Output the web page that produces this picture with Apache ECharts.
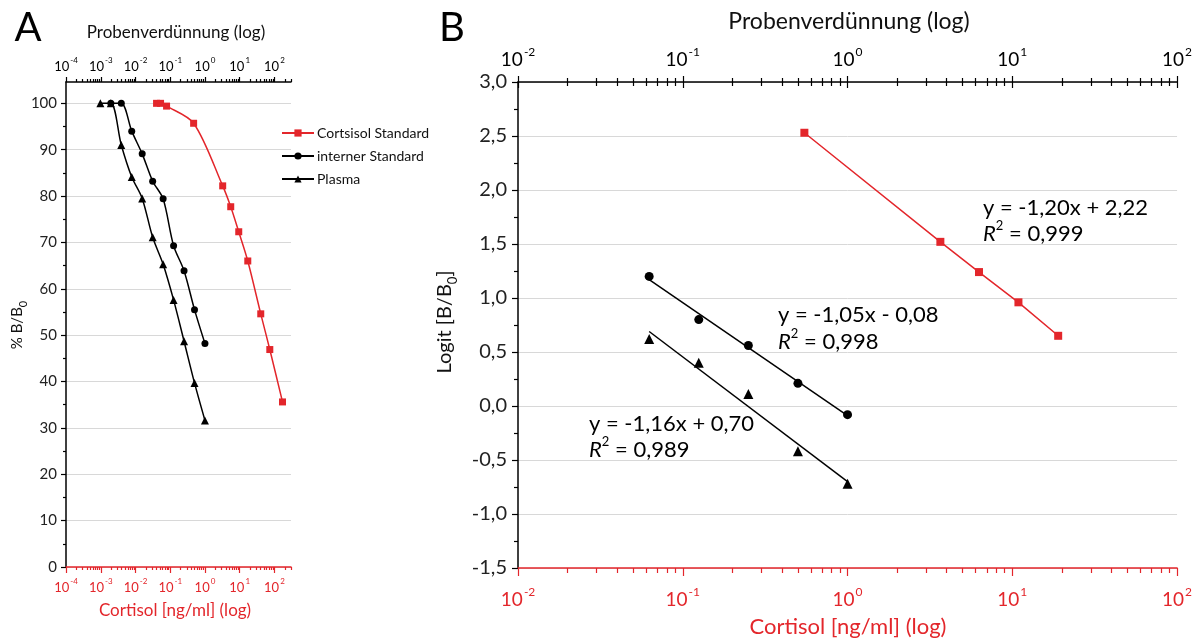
<!DOCTYPE html>
<html>
<head>
<meta charset="utf-8">
<script src="https://cdn.jsdelivr.net/npm/echarts@6/dist/echarts.min.js"></script>
<style>
html, body { margin: 0; padding: 0; background: #fff; }
#chart { width: 1195px; height: 638px; }
</style>
</head>
<body>
<div id="chart"></div>
<script>
// Panel A: % B/B0 gegen Konzentration
const concPlasmaA = [0.000977, 0.00195, 0.0039, 0.0078, 0.0156, 0.03125, 0.0625, 0.125, 0.25, 0.5, 1]
const plasmaA = [100, 100, 91.0, 84.1, 79.5, 71.1, 65.3, 57.6, 48.7, 39.7, 31.6]
const concInternA = [0.00195, 0.0039, 0.0078, 0.0156, 0.03125, 0.0625, 0.125, 0.25, 0.5, 1]
const internA = [100, 100, 94.0, 89.1, 83.2, 79.4, 69.3, 63.9, 55.5, 48.2]
const concStdA = [0.0404, 0.0527, 0.0785, 0.472, 3.24, 5.52, 9.39, 17.1, 40.4, 73.6, 171]
const stdA = [100, 100, 99.4, 95.7, 82.2, 77.7, 72.3, 66.0, 54.6, 46.9, 35.6]

// Panel B: Logit
const concB = [0.0625, 0.125, 0.25, 0.5, 1]
const internB = [1.20, 0.80, 0.56, 0.21, -0.08]
const plasmaB = [0.62, 0.40, 0.11, -0.42, -0.72]
const concStdB = [0.547, 3.66, 6.28, 10.9, 19.0]
const stdB = [2.53, 1.52, 1.24, 0.96, 0.65]
// Regressionsgeraden (Endpunkte)
const fitConc = [0.0625, 1]
const internFit = [1.17, -0.09]
const plasmaFit = [0.69, -0.70]

const names = ['Cortsisol Standard', 'interner Standard', 'Plasma']
const decadesA = [1e-4, 1e-3, 1e-2, 1e-1, 1, 10, 100]
const decadesB = [1e-2, 1e-1, 1, 10, 100]
const yTicksA = [0, 10, 20, 30, 40, 50, 60, 70, 80, 90, 100]
const yMinorA = [5, 15, 25, 35, 45, 55, 65, 75, 85, 95]

const RED = '#e3262b'
const FONT = 'Lato'

const zip = (xs, ys) => xs.map((x, i) => [x, ys[i]])
const minorOf = d => d.flatMap(v => [2, 3, 4, 5, 6, 7, 8, 9].map(k => +(k * v).toPrecision(3)))

const supRich = (size, color) => ({
  b: { fontSize: size, fontFamily: FONT, color, lineHeight: size + 4, verticalAlign: 'bottom' },
  s: { fontSize: Math.round(size * 0.62), fontFamily: FONT, color, lineHeight: size + 4, verticalAlign: 'top', padding: [0, 0, 0, 1] }
})
const sup = v => '{b|10}{s|' + Math.round(Math.log10(v)) + '}'

function logAxis (grid, pos, min, max, o) {
  return {
    type: 'log', logBase: 10, gridIndex: grid, position: pos, min, max,
    axisLine: { show: !!o.line, onZero: false, lineStyle: { color: o.color, width: 1.5 } },
    axisTick: { show: true, customValues: o.ticks, length: o.len, inside: !!o.inside, lineStyle: { color: o.color, width: 1.2 } },
    axisLabel: o.labels
      ? { show: true, customValues: o.labels, formatter: sup, margin: o.margin, rich: supRich(o.size, o.color) }
      : { show: false },
    splitLine: { show: false },
    minorTick: { show: false }
  }
}

const chart = echarts.init(document.getElementById('chart'))

const text = (x, y, t, size, color, extra) => Object.assign({
  type: 'text', x, y, silent: true,
  style: Object.assign({
    text: t, fill: color || '#000', fontSize: size, fontFamily: FONT,
    align: 'center', verticalAlign: 'middle', textAlign: 'center', textVerticalAlign: 'middle'
  }, (extra && extra.style) || {})
}, extra && extra.rotation !== undefined ? { rotation: extra.rotation } : {})

const eqRich = {
  n: { fontSize: 22, fontFamily: FONT, lineHeight: 26, verticalAlign: 'bottom' },
  i: { fontSize: 22, fontFamily: FONT, fontStyle: 'italic', lineHeight: 26, verticalAlign: 'bottom' },
  s: { fontSize: 13, fontFamily: FONT, lineHeight: 26, verticalAlign: 'top' }
}
const eq = (x, y, t) => ({
  type: 'text', x, y, silent: true,
  style: { text: t, rich: eqRich, fontSize: 22, fontFamily: FONT, fill: '#000', align: 'left', textAlign: 'left', verticalAlign: 'middle', textVerticalAlign: 'middle' }
})

const minorA = minorOf(decadesA)
const minorB = minorOf(decadesB)

chart.setOption({
  animation: false,
  textStyle: { fontFamily: FONT },
  grid: [
    { left: 66, top: 82, width: 225, height: 485 },
    { left: 518, top: 82, width: 660, height: 486 }
  ],
  legend: {
    data: names, orient: 'vertical', left: 276, top: 121,
    itemWidth: 32, itemHeight: 9, itemGap: 9,
    textStyle: { fontSize: 14, fontFamily: FONT, color: '#111', padding: [0, 0, 0, -2] }
  },
  xAxis: [
    logAxis(0, 'bottom', 0.0000999, 300, { line: true, color: RED, ticks: decadesA, len: 6, labels: decadesA, margin: 10, size: 13 }),
    logAxis(0, 'bottom', 0.0000999, 300, { color: RED, ticks: minorA, len: 3 }),
    logAxis(0, 'top', 0.0000999, 300, { line: true, color: '#000', ticks: decadesA, len: 5, labels: decadesA, margin: 9, size: 13 }),
    logAxis(0, 'top', 0.0000999, 300, { color: '#000', ticks: minorA, len: 3 }),
    logAxis(1, 'bottom', 0.00999, 100.1, { line: true, color: RED, ticks: decadesB, len: 8, labels: decadesB, margin: 18, size: 19 }),
    logAxis(1, 'bottom', 0.00999, 100.1, { color: RED, ticks: minorB, len: 5 }),
    logAxis(1, 'top', 0.00999, 100.1, { line: true, color: '#000', ticks: decadesB, len: 6, labels: decadesB, margin: 13, size: 19 }),
    logAxis(1, 'top', 0.00999, 100.1, { color: '#000', ticks: decadesB, len: 6, inside: true }),
    logAxis(1, 'top', 0.00999, 100.1, { color: '#000', ticks: minorB, len: 4 }),
    logAxis(1, 'top', 0.00999, 100.1, { color: '#000', ticks: minorB, len: 4, inside: true })
  ],
  yAxis: [
    {
      type: 'value', gridIndex: 0, min: 0, max: 104.6, interval: 10,
      axisLine: { show: true, lineStyle: { color: '#000', width: 1.5 } },
      axisTick: { show: true, customValues: yTicksA, length: 5, lineStyle: { color: '#000', width: 1.2 } },
      axisLabel: { customValues: yTicksA, fontSize: 15, color: '#222', margin: 9 },
      splitLine: { show: true, lineStyle: { color: '#d8d8d8', width: 1 } }
    },
    {
      type: 'value', gridIndex: 0, min: 0, max: 104.6, position: 'left',
      axisLine: { show: false },
      axisTick: { show: true, customValues: yMinorA, length: 3, lineStyle: { color: '#000', width: 1.2 } },
      axisLabel: { show: false },
      splitLine: { show: false }
    },
    {
      type: 'value', gridIndex: 1, min: -1.5, max: 3, interval: 0.5,
      axisLine: { show: true, lineStyle: { color: '#000', width: 1.5 } },
      axisTick: { show: true, length: 6, lineStyle: { color: '#000', width: 1.2 } },
      minorTick: { show: true, splitNumber: 2, length: 4, lineStyle: { color: '#000', width: 1.2 } },
      axisLabel: { fontSize: 20, color: '#222', margin: 11, formatter: v => v.toFixed(1).replace('.', ',') },
      splitLine: { show: true, lineStyle: { color: '#d8d8d8', width: 1 } }
    }
  ],
  series: [
    {
      name: names[0], type: 'line', xAxisIndex: 0, yAxisIndex: 0, data: zip(concStdA, stdA),
      symbol: 'rect', symbolSize: 7, smooth: 0.3,
      itemStyle: { color: RED }, lineStyle: { color: RED, width: 1.5 }
    },
    {
      name: names[1], type: 'line', xAxisIndex: 0, yAxisIndex: 0, data: zip(concInternA, internA),
      symbol: 'circle', symbolSize: 7, smooth: 0.3,
      itemStyle: { color: '#000' }, lineStyle: { color: '#000', width: 1.5 }
    },
    {
      name: names[2], type: 'line', xAxisIndex: 0, yAxisIndex: 0, data: zip(concPlasmaA, plasmaA),
      symbol: 'triangle', symbolSize: 8, smooth: 0.3,
      itemStyle: { color: '#000' }, lineStyle: { color: '#000', width: 1.5 }
    },
    {
      type: 'line', xAxisIndex: 4, yAxisIndex: 2, data: zip(concStdB, stdB),
      symbol: 'rect', symbolSize: 8, itemStyle: { color: RED }, lineStyle: { color: RED, width: 1.5 }
    },
    {
      type: 'line', xAxisIndex: 4, yAxisIndex: 2, data: zip(fitConc, internFit),
      showSymbol: false, symbol: 'none', lineStyle: { color: '#000', width: 1.5 }
    },
    {
      type: 'line', xAxisIndex: 4, yAxisIndex: 2, data: zip(fitConc, plasmaFit),
      showSymbol: false, symbol: 'none', lineStyle: { color: '#000', width: 1.5 }
    },
    {
      type: 'scatter', xAxisIndex: 4, yAxisIndex: 2, data: zip(concB, internB),
      symbol: 'circle', symbolSize: 9, itemStyle: { color: '#000', opacity: 1 }
    },
    {
      type: 'scatter', xAxisIndex: 4, yAxisIndex: 2, data: zip(concB, plasmaB),
      symbol: 'triangle', symbolSize: 10, itemStyle: { color: '#000', opacity: 1 }
    }
  ],
  graphic: [
    text(28, 28, 'A', 40, '#000'),
    text(452, 28, 'B', 40, '#000'),
    text(176, 33, 'Probenverdünnung (log)', 17, '#111'),
    text(175, 611, 'Cortisol [ng/ml] (log)', 17, RED),
    text(849, 22, 'Probenverdünnung (log)', 23, '#111'),
    text(848, 627, 'Cortisol [ng/ml] (log)', 22, RED),
    text(19, 325, '{a|% B/B}{s|0}', 15, '#111', {
      rotation: Math.PI / 2,
      style: { rich: { a: { fontSize: 15, fontFamily: FONT, lineHeight: 19, verticalAlign: 'top' }, s: { fontSize: 11, fontFamily: FONT, lineHeight: 19, verticalAlign: 'bottom' } } }
    }),
    text(447, 322, '{a|Logit [B/B}{s|0}{a|]}', 20, '#111', {
      rotation: Math.PI / 2,
      style: { rich: { a: { fontSize: 20, fontFamily: FONT, lineHeight: 24, verticalAlign: 'top' }, s: { fontSize: 13, fontFamily: FONT, lineHeight: 24, verticalAlign: 'bottom' } } }
    }),
    eq(983, 206, '{n|y = -1,20x + 2,22}'),
    eq(983, 232, '{i|R}{s|2}{n| = 0,999}'),
    eq(778, 313, '{n|y = -1,05x - 0,08}'),
    eq(778, 340, '{i|R}{s|2}{n| = 0,998}'),
    eq(589, 422, '{n|y = -1,16x + 0,70}'),
    eq(589, 448, '{i|R}{s|2}{n| = 0,989}')
  ]
})
</script>
</body>
</html>
